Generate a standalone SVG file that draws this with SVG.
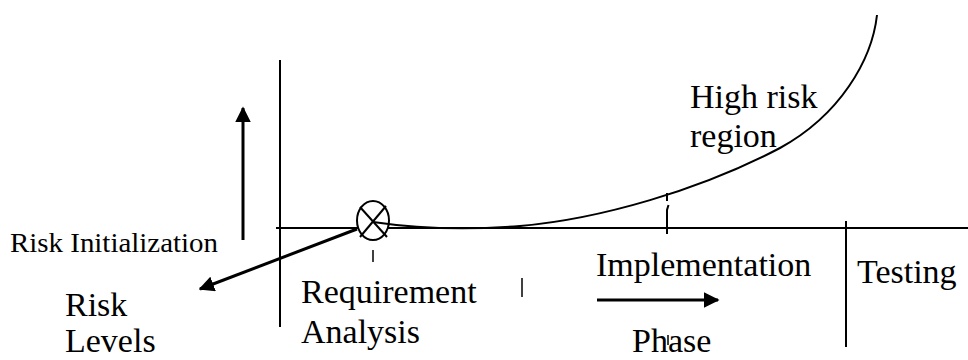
<svg xmlns="http://www.w3.org/2000/svg" width="968" height="360" viewBox="0 0 968 360">
<defs>
<style>
.ln{stroke:#000;fill:none;stroke-width:2}
.th{stroke:#000;fill:none;stroke-width:1.5}
.ar{stroke:#000;fill:none;stroke-width:3}
</style>
<marker id="ah" viewBox="0 0 10 10" refX="9" refY="5" markerWidth="5.2" markerHeight="5.2" markerUnits="strokeWidth" orient="auto">
<path d="M0,0 L10,5 L0,10 z" fill="#000"/>
</marker>
</defs>
<rect width="968" height="360" fill="#fff"/>
<g id="connectors">
<line id="yaxis" class="ln" x1="280" y1="60" x2="280" y2="327"/>
<line id="xaxis" class="ln" x1="276" y1="228" x2="968" y2="228"/>
<line id="testing-divider" class="ln" x1="846" y1="221" x2="846" y2="347"/>
<line id="up-arrow" class="ar" x1="243" y1="240" x2="243" y2="108" marker-end="url(#ah)"/>
<line id="risk-levels-arrow" class="ar" x1="357" y1="229" x2="200" y2="289" marker-end="url(#ah)"/>
<line id="phase-arrow" class="ar" x1="597" y1="300" x2="718" y2="300" marker-end="url(#ah)"/>
<line class="th" x1="373" y1="250" x2="373" y2="262"/>
<line class="th" x1="522" y1="278" x2="522" y2="297"/>
<path class="ln" d="M667,193 L667,201 M668.5,205 L667,210 L667,234"/>
<line class="th" x1="668" y1="335" x2="668" y2="345"/>
</g>
<g id="risk-init-node">
<ellipse cx="373" cy="220.5" rx="16" ry="19.5" fill="#fff" stroke="#000" stroke-width="2"/>
<line class="ln" x1="360" y1="207" x2="387" y2="237"/>
<line class="ln" x1="386" y1="206" x2="360" y2="237"/>
</g>
<g id="risk-curve">
<path class="ln" d="M373,222 C420,229 470,230 520,226 C600,219 700,190 780,148 C840,115 872,60 877,15"/>
</g>
<g id="labels" font-family="Liberation Serif, Times New Roman, serif" font-size="34" fill="#000">
<text font-size="27" x="10" y="252" textLength="208" lengthAdjust="spacingAndGlyphs">Risk Initialization</text>
<text x="65" y="316">Risk</text>
<text x="65" y="352">Levels</text>
<text x="301" y="303">Requirement</text>
<text x="301" y="343">Analysis</text>
<text x="596" y="276">Implementation</text>
<text x="632" y="352">Phase</text>
<text x="857" y="283">Testing</text>
<text x="690" y="108">High risk</text>
<text x="690" y="147">region</text>
</g>
</svg>
